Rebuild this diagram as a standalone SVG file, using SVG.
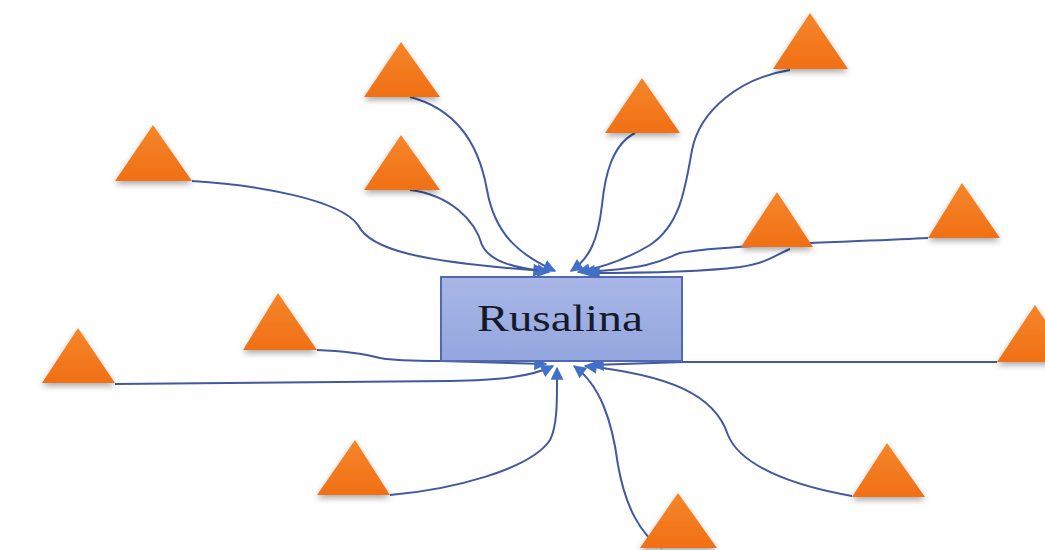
<svg xmlns="http://www.w3.org/2000/svg" width="1045" height="550" viewBox="0 0 1045 550">
<defs>
<linearGradient id="tg" x1="0" y1="0" x2="0" y2="1">
<stop offset="0" stop-color="#f6862a"/>
<stop offset="1" stop-color="#f07015"/>
</linearGradient>
<linearGradient id="bg" x1="0" y1="0" x2="0" y2="1">
<stop offset="0" stop-color="#a9b7e7"/>
<stop offset="1" stop-color="#93a6de"/>
</linearGradient>
<filter id="sh" x="-30%" y="-30%" width="160%" height="170%">
<feGaussianBlur in="SourceAlpha" stdDeviation="3"/>
<feOffset dx="0" dy="3" result="b"/>
<feComponentTransfer><feFuncA type="linear" slope="0.35"/></feComponentTransfer>
<feMerge><feMergeNode/><feMergeNode in="SourceGraphic"/></feMerge>
</filter>
<marker id="ah2" viewBox="0 0 10 10" refX="9" refY="5" markerWidth="18" markerHeight="13" markerUnits="userSpaceOnUse" orient="auto">
<path d="M0,0 L10,5 L0,10 z" fill="#4070c8"/>
</marker>
</defs>
<style>
.tri{fill:url(#tg);filter:url(#sh)}
.c{fill:none;stroke:#40599f;stroke-width:2;marker-end:url(#ah2)}
</style>
<rect width="1045" height="550" fill="#ffffff"/>
<g id="connectors">
<path class="c" d="M192,181 C260,185 340,200 358,225 C370,250 420,262 545,271"/>
<path class="c" d="M410,97 C460,110 480,150 487,190 C495,235 520,255 555,271"/>
<path class="c" d="M410,190 C450,195 475,220 482,245 C490,262 515,268 549,272"/>
<path class="c" d="M635,133 C612,145 605,175 602,205 C598,240 590,258 571,271"/>
<path class="c" d="M790,70 C740,78 700,110 692,150 C685,190 680,225 650,245 C625,260 600,268 578,272"/>
<path class="c" d="M928,238 C850,242 720,245 680,253 C665,258 660,268 583,272"/>
<path class="c" d="M790,249 C775,255 770,262 740,267 C700,272 640,273 588,273"/>
<path class="c" d="M115,384 L450,381 C500,380 530,377 553,366"/>
<path class="c" d="M317,350 C345,351 365,354 380,358 C395,361 420,361 441,361 L546,364"/>
<path class="c" d="M390,495 C450,490 530,470 550,440 C558,425 557,395 557,368"/>
<path class="c" d="M662,548 C640,535 625,505 618,465 C612,420 600,385 574,366"/>
<path class="c" d="M852,496 C790,485 740,465 728,435 C715,395 670,375 585,366"/>
<path class="c" d="M997,362 L683,362 L592,365"/>
</g>
<g id="rusalina">
<rect x="441" y="277" width="241" height="84" fill="url(#bg)" stroke="#5268b0" stroke-width="2"/>
<text x="560" y="331" text-anchor="middle" font-family="Liberation Serif, serif" font-size="38" fill="#141a2a" textLength="166" lengthAdjust="spacingAndGlyphs">Rusalina</text>
</g>
<g id="t1"><polygon class="tri" points="115,181 192,181 153,125"/></g>
<g id="t2"><polygon class="tri" points="364,97 440,97 401,42"/></g>
<g id="t3"><polygon class="tri" points="364,190 440,190 401,135"/></g>
<g id="t4"><polygon class="tri" points="605,133 680,133 642,78"/></g>
<g id="t5"><polygon class="tri" points="773,69 848,69 810,13"/></g>
<g id="t6"><polygon class="tri" points="741,247 813,247 777,192"/></g>
<g id="t7"><polygon class="tri" points="928,238 1000,238 962,183"/></g>
<g id="t8"><polygon class="tri" points="997,362 1073,362 1035,305"/></g>
<g id="t9"><polygon class="tri" points="852,497 925,497 887,443"/></g>
<g id="t10"><polygon class="tri" points="640,548 717,548 678,493"/></g>
<g id="t11"><polygon class="tri" points="317,495 390,495 355,440"/></g>
<g id="t12"><polygon class="tri" points="42,383 115,383 78,328"/></g>
<g id="t13"><polygon class="tri" points="243,350 317,350 278,293"/></g>
</svg>
